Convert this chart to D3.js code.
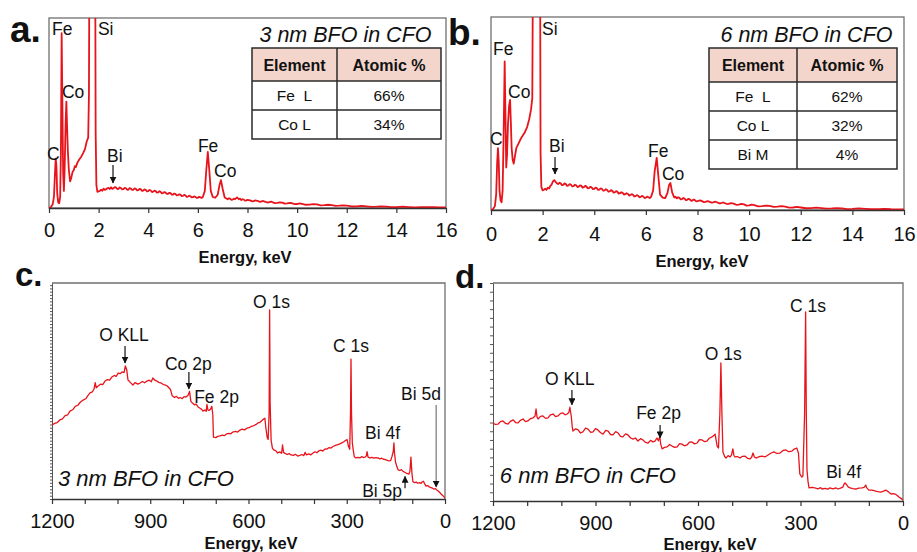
<!DOCTYPE html>
<html><head><meta charset="utf-8">
<script src="https://cdn.jsdelivr.net/npm/d3@7"></script>
<style>
body{margin:0;background:#fff}
svg{display:block;font-family:"Liberation Sans",Arial,Helvetica,sans-serif}
</style>
</head><body>
<svg id="chart" width="917" height="552"></svg>
<script>
// ---------- DATA ----------
const edsTicks = [0,2,4,6,8,10,12,14,16];
const xpsTicks = [0,100,200,300,400,500,600,700,800,900,1000,1100,1200];

// EDS spectrum, 3 nm BFO in CFO  [energy keV, counts a.u.]
const edsA = [[0,0],[0.08,0.5],[0.15,2],[0.2,6],[0.24,18],[0.27,26],[0.3,22],[0.33,8],[0.37,3],[0.41,2.5],[0.45,6],[0.48,30],[0.51,92],[0.54,55],[0.57,18],[0.6,9],[0.63,20],[0.67,45],[0.7,56],[0.73,42],[0.76,30],[0.8,20],[0.85,14],[0.9,16],[0.95,19],[1.0,20],[1.04,22],[1.08,21.5],[1.15,24],[1.22,25.5],[1.3,27],[1.38,29],[1.45,31],[1.52,35],[1.58,37],[1.61,60],[1.63,140],[1.86,140],[1.88,40],[1.91,12],[1.95,8.5],[2.0,8.8],[2.05,9.0],[2.1,9.6],[2.15,9.1],[2.2,10.2],[2.25,9.5],[2.3,9.8],[2.35,10.4],[2.4,10.6],[2.45,10.0],[2.5,10.9],[2.55,10.1],[2.6,10.3],[2.65,11.0],[2.7,10.8],[2.75,10.0],[2.8,10.1],[2.85,10.8],[2.9,10.5],[2.95,9.8],[3.0,9.9],[3.05,10.6],[3.1,10.4],[3.15,9.6],[3.2,9.7],[3.25,10.5],[3.3,10.2],[3.35,9.5],[3.4,9.6],[3.45,10.3],[3.5,10.1],[3.55,9.3],[3.6,9.4],[3.65,10.0],[3.7,9.9],[3.75,9.0],[3.8,9.2],[3.85,9.8],[3.9,9.5],[3.95,8.8],[4.0,8.9],[4.05,9.5],[4.1,9.2],[4.15,8.4],[4.2,8.6],[4.25,9.1],[4.3,8.9],[4.35,8.1],[4.4,8.2],[4.45,8.8],[4.5,8.5],[4.55,7.7],[4.6,7.9],[4.65,8.4],[4.7,8.1],[4.75,7.4],[4.8,7.5],[4.85,8.0],[4.9,7.8],[4.95,7.0],[5.0,7.1],[5.05,7.6],[5.1,7.3],[5.15,6.6],[5.2,6.8],[5.25,7.2],[5.3,7.0],[5.35,6.3],[5.4,6.4],[5.45,6.9],[5.5,6.6],[5.55,5.9],[5.6,6.0],[5.65,6.5],[5.7,6.2],[5.75,5.6],[5.8,5.7],[5.85,6.1],[5.9,5.9],[5.95,5.3],[6.0,5.4],[6.05,5.9],[6.1,5.6],[6.15,5.3],[6.2,5.8],[6.28,9],[6.34,20],[6.4,29.5],[6.46,20],[6.52,9],[6.6,5.8],[6.7,5.4],[6.8,7],[6.87,12],[6.93,14.7],[7.0,10],[7.08,5.5],[7.15,5.0],[7.2,4.6],[7.25,5.1],[7.3,4.9],[7.35,4.3],[7.4,4.4],[7.45,4.9],[7.5,4.7],[7.58,5.6],[7.65,4.6],[7.7,4.9],[7.75,4.2],[7.8,4.6],[7.85,4.4],[7.9,3.9],[7.95,3.9],[8.0,4.3],[8.1,4.0],[8.2,3.5],[8.25,3.6],[8.3,4.0],[8.4,3.8],[8.5,3.2],[8.55,3.3],[8.6,3.7],[8.7,3.4],[8.8,2.9],[8.85,3.0],[8.95,3.4],[9.0,3.1],[9.1,2.6],[9.2,2.7],[9.3,3.0],[9.4,2.8],[9.5,2.3],[9.6,2.4],[9.7,2.7],[9.8,2.5],[9.9,2.0],[10.0,2.1],[10.1,2.4],[10.2,2.2],[10.35,1.7],[10.5,1.8],[10.65,2.0],[10.8,1.9],[10.95,1.4],[11.1,1.5],[11.25,1.7],[11.4,1.5],[11.55,1.1],[11.7,1.2],[11.85,1.4],[12.0,1.2],[12.2,0.8],[12.4,0.9],[12.6,1.1],[12.8,0.9],[13.0,0.6],[13.2,0.7],[13.4,0.9],[13.6,0.7],[13.8,0.5],[14.0,0.5],[14.25,0.7],[14.5,0.5],[14.75,0.3],[15.0,0.4],[15.25,0.5],[15.5,0.4],[15.75,0.3],[16.0,0.3]];

// EDS spectrum, 6 nm BFO in CFO
const edsB = [[0,0],[0.08,0.5],[0.15,2],[0.2,8],[0.24,25],[0.27,32],[0.3,25],[0.33,10],[0.37,5],[0.41,4],[0.45,10],[0.49,40],[0.53,77],[0.56,50],[0.59,22],[0.62,28],[0.66,45],[0.7,54],[0.74,57],[0.77,45],[0.8,32],[0.84,26],[0.88,24],[0.93,28],[0.98,32],[1.05,34],[1.12,36],[1.2,38],[1.3,40],[1.4,43],[1.48,47],[1.55,52],[1.6,58],[1.63,140],[1.9,140],[1.92,30],[1.95,12],[2.0,10.2],[2.05,10.5],[2.1,11.0],[2.15,10.4],[2.2,11.6],[2.25,11.1],[2.3,12.5],[2.35,13.2],[2.4,14.8],[2.45,15.5],[2.5,14.6],[2.55,13.9],[2.6,13.4],[2.65,14.1],[2.7,13.8],[2.75,12.9],[2.8,13.0],[2.85,13.8],[2.9,13.4],[2.95,12.5],[3.0,12.7],[3.05,13.4],[3.1,13.1],[3.15,12.2],[3.2,12.4],[3.25,13.1],[3.3,12.8],[3.35,11.9],[3.4,12.1],[3.45,12.8],[3.5,12.5],[3.55,11.6],[3.6,11.8],[3.65,12.5],[3.7,12.1],[3.75,11.2],[3.8,11.4],[3.85,12.0],[3.9,11.7],[3.95,10.8],[4.0,11.0],[4.05,11.6],[4.1,11.3],[4.15,10.4],[4.2,10.6],[4.25,11.2],[4.3,10.9],[4.35,10.0],[4.4,10.2],[4.45,10.8],[4.5,10.4],[4.55,9.5],[4.6,9.7],[4.65,10.3],[4.7,9.9],[4.75,9.0],[4.8,9.2],[4.85,9.8],[4.9,9.4],[4.95,8.5],[5.0,8.7],[5.05,9.2],[5.1,8.9],[5.15,8.0],[5.2,8.2],[5.25,8.7],[5.3,8.4],[5.35,7.5],[5.4,7.7],[5.45,8.2],[5.5,7.9],[5.55,7.0],[5.6,7.2],[5.65,7.7],[5.7,7.4],[5.75,6.6],[5.8,6.8],[5.85,7.3],[5.9,7.0],[5.95,6.2],[6.0,6.4],[6.05,6.9],[6.1,6.6],[6.15,6.2],[6.2,6.8],[6.28,10],[6.34,20],[6.42,27],[6.48,18],[6.55,8],[6.65,6.4],[6.75,6.2],[6.84,9],[6.9,13],[6.95,14],[7.02,9],[7.1,6.5],[7.15,6.9],[7.2,6.0],[7.25,6.6],[7.3,6.3],[7.35,5.5],[7.4,5.6],[7.45,6.2],[7.5,5.9],[7.55,5.1],[7.6,5.3],[7.65,5.8],[7.7,5.5],[7.75,4.8],[7.8,4.9],[7.85,5.4],[7.9,5.1],[7.95,4.5],[8.0,4.6],[8.1,5.0],[8.15,4.7],[8.25,4.1],[8.3,4.2],[8.4,4.6],[8.45,4.3],[8.55,3.8],[8.6,3.9],[8.7,4.3],[8.75,4.0],[8.85,3.4],[8.9,3.5],[9.0,3.9],[9.05,3.6],[9.15,3.1],[9.2,3.2],[9.3,3.6],[9.4,3.3],[9.5,2.7],[9.6,2.8],[9.7,3.2],[9.8,2.9],[9.9,2.3],[10.0,2.4],[10.1,2.8],[10.2,2.5],[10.35,1.9],[10.5,2.0],[10.65,2.3],[10.8,2.1],[10.95,1.6],[11.1,1.7],[11.25,2.0],[11.4,1.7],[11.55,1.2],[11.7,1.3],[11.85,1.6],[12.0,1.3],[12.2,0.9],[12.4,1.0],[12.6,1.2],[12.8,1.0],[13.0,0.7],[13.2,0.8],[13.4,1.0],[13.6,0.8],[13.8,0.5],[14.0,0.6],[14.25,0.8],[14.5,0.6],[14.75,0.4],[15.0,0.4],[15.25,0.6],[15.5,0.4],[15.75,0.3],[16.0,0.3]];

// XPS survey, 3 nm BFO in CFO  [binding energy, intensity a.u.]
const xpsC = [[1200,34.3],[1192,35.0],[1184,35.4],[1176,36.6],[1168,37.1],[1160,38.6],[1152,39.0],[1145,40.7],[1137,41.3],[1129,42.9],[1121,43.4],[1113,44.9],[1105,45.8],[1097,46.4],[1090,48.0],[1084,49.1],[1077,49.6],[1072,50.8],[1068,53.9],[1065,51.5],[1058,52.4],[1051,53.2],[1045,53.0],[1038,54.6],[1031,55.3],[1024,55.0],[1017,56.5],[1010,57.2],[1004,56.8],[998,58.3],[992,58.0],[986,58.8],[980,58.5],[976,61.6],[972,60.0],[968,55.1],[961,54.0],[953,52.8],[946,53.9],[938,53.2],[931,53.7],[924,54.4],[917,53.8],[910,54.6],[903,55.0],[897,54.3],[892,56.0],[886,55.0],[880,54.6],[874,54.0],[866,53.6],[860,53.0],[855,52.8],[848,52.3],[843,51.5],[838,50.6],[833,47.8],[826,47.0],[820,47.5],[814,46.6],[809,47.0],[802,46.5],[797,47.4],[791,47.2],[785,47.9],[780,49.8],[776,45.2],[771,44.4],[765,43.6],[760,43.9],[754,42.6],[748,42.0],[743,41.5],[739,40.7],[733,41.2],[729,40.6],[727,43.8],[724,41.3],[721,41.0],[716,41.6],[712,42.9],[709,39.0],[707,28.6],[700,28.4],[694,29.0],[687,29.2],[680,29.6],[674,29.3],[667,30.1],[660,30.4],[654,30.2],[648,31.0],[640,31.3],[633,31.0],[626,31.9],[619,32.3],[612,32.0],[605,32.8],[598,33.0],[592,33.6],[585,33.9],[578,34.4],[571,35.2],[565,35.5],[559,36.3],[554,37.0],[550,37.4],[547,33.0],[543,28.5],[540,27.6],[537,40],[535.5,87.5],[534,45],[531,27.3],[527,23.6],[523,22.7],[517,22.4],[511,21.3],[505,21.8],[499,21.2],[496,25.0],[493,21.6],[488,21.1],[482,20.6],[476,21.0],[470,20.4],[463,20.2],[457,20.7],[450,19.9],[443,20.2],[437,20.6],[431,20.1],[427,21.6],[423,20.4],[416,20.9],[410,20.4],[404,21.2],[397,21.9],[391,21.4],[385,22.3],[379,22.6],[373,22.2],[366,23.2],[360,23.1],[354,23.8],[348,23.6],[342,24.3],[335,24.8],[329,25.1],[321,25.5],[315,26.0],[309,26.5],[303,27.2],[299,27.5],[295,24.5],[291,23.0],[288.5,40],[287,64.8],[285.5,40],[283,26],[280,22.5],[277,19.6],[272,19.0],[266,19.3],[260,19.0],[254,19.6],[249,19.2],[244,19.4],[240,20.0],[238,21.9],[235,19.4],[229,19.0],[223,19.3],[217,18.9],[211,19.2],[205,19.0],[199,18.6],[193,18.9],[188,18.4],[182,18.2],[176,17.9],[171,17.6],[166,17.8],[162,19.6],[158,22],[156,26.0],[154,21],[151,17.0],[147,15.0],[143,13.5],[138,13.2],[133,13.6],[128,12.8],[123,12.4],[119,12.0],[114,11.8],[110,11.5],[107,13],[104,19.4],[101,12],[98,8.0],[93,7.6],[88,7.8],[83,7.3],[78,7.6],[73,7.2],[69,8.0],[66,8.2],[62,7.0],[58,6.0],[53,6.2],[48,5.6],[43,5.3],[38,5.0],[34,4.6],[29,4.8],[25,4.2],[20,3.6],[16,3.0],[12,2.3],[7,1.6],[3,1.0],[0,0.5]];

// XPS survey, 6 nm BFO in CFO
const xpsD = [[1200,35.8],[1193,35.1],[1185,35.3],[1178,36.4],[1171,36.7],[1163,35.6],[1156,35.3],[1149,36.5],[1141,37.2],[1134,36.0],[1127,35.8],[1120,37.0],[1112,37.6],[1105,36.4],[1098,36.7],[1090,37.8],[1083,38.1],[1077,39.0],[1074,42.2],[1071,38.4],[1068,37.6],[1061,38.8],[1054,39.0],[1046,37.9],[1039,38.1],[1032,39.5],[1024,39.9],[1017,38.7],[1010,39.0],[1002,40.2],[995,40.4],[989,39.5],[983,39.9],[978,40.6],[975,43.0],[971,39.0],[968,34.0],[966,32.1],[958,33.1],[951,32.6],[944,31.2],[937,31.7],[929,33.4],[922,33.0],[914,31.5],[907,31.7],[900,33.2],[893,32.6],[885,31.3],[878,30.7],[870,32.4],[863,32.1],[856,30.5],[849,30.3],[841,31.8],[834,31.2],[827,29.6],[820,29.4],[812,30.8],[805,30.3],[797,28.9],[790,28.4],[783,28.9],[776,27.5],[768,28.6],[761,28.0],[754,26.9],[746,26.6],[739,27.8],[732,27.1],[726,27.5],[720,28.9],[716,27.6],[712,29.6],[709,26.0],[705,23.9],[698,24.6],[691,24.8],[683,25.9],[676,25.2],[668,24.6],[661,24.8],[654,26.3],[647,26.1],[640,25.3],[632,25.7],[625,27.0],[618,27.1],[610,26.2],[603,26.6],[596,28.1],[588,28.0],[581,27.2],[574,27.5],[567,28.8],[559,29.4],[554,30.0],[550,30.7],[547,28.0],[544,25.2],[540,24.3],[536,40],[533,63.3],[530,40],[527,22.5],[522,20.4],[518,19.7],[512,20.8],[506,20.2],[502,21.0],[498,23.9],[495,21.0],[492,20.2],[485,20.4],[477,19.7],[470,20.5],[463,20.6],[455,19.6],[448,19.3],[443,20.1],[439,22.0],[435,20.2],[430,19.7],[422,20.3],[413,20.6],[404,20.2],[395,21.1],[387,21.9],[378,22.5],[369,21.8],[360,22.0],[351,23.2],[343,23.4],[334,22.6],[325,22.9],[318,23.8],[311,24.3],[306,22.0],[302,12.4],[296,11.0],[293,11.5],[288,40],[285,86.7],[283,40],[281,14.2],[278,9],[275,6.0],[266,6.3],[258,6.0],[249,5.6],[241,6.1],[237,5.5],[228,5.8],[220,5.4],[214,6.0],[205,5.6],[197,6.0],[190,5.5],[183,5.9],[176,6.4],[173,7.6],[170,8.3],[167,7.8],[164,7.3],[160,6.4],[155,6.0],[147,5.7],[138,5.5],[130,5.9],[120,6.0],[114,6.2],[109,7.3],[106,6.0],[100,5.0],[91,5.0],[82,4.6],[74,4.3],[65,4.1],[57,4.5],[50,5.0],[43,4.2],[35,3.2],[29,3.4],[23,3.2],[17,2.5],[12,1.8],[6,1.2],[0,0.5]];

// EDS quantification tables
const tableHead = ["Element", "Atomic %"];
const tableA = [["Fe  L", "66%"], ["Co L", "34%"]];
const tableB = [["Fe  L", "62%"], ["Co L", "32%"], ["Bi M", "4%"]];

// Peak annotations (in data units)
const annA = [{t:"Fe",x:0.12,y:91},{t:"Si",x:1.97,y:91},{t:"Co",x:0.52,y:57.9},{t:"C",x:-0.08,y:25.3},{t:"Bi",x:2.34,y:24.2},{t:"Fe",x:6.0,y:29.5},{t:"Co",x:6.65,y:16.3}];
const arrA = [{x:2.58,y1:22.6,y2:13.2}];
const annB = [{t:"Fe",x:0.08,y:80.3},{t:"Si",x:1.98,y:90.7},{t:"Co",x:0.66,y:58.0},{t:"C",x:-0.04,y:33.7},{t:"Bi",x:2.25,y:30.1},{t:"Fe",x:6.08,y:27.5},{t:"Co",x:6.62,y:15.5}];
const arrB = [{x:2.48,y1:27.5,y2:18.7}];
const annC = [{t:"O KLL",x:1056,y:73.1},{t:"Co 2p",x:855,y:59.7},{t:"Fe 2p",x:766,y:44.4},{t:"O 1s",x:586,y:88.4},{t:"C 1s",x:342,y:68.1},{t:"Bi 5d",x:134,y:45.8},{t:"Bi 4f",x:244,y:27.8},{t:"Bi 5p",x:253,y:0.9}];
const arrC = [{x:977,y1:70.8,y2:63.0},{x:782,y1:58.8,y2:51.0},{x:27,y1:43.5,y2:5.6,grey:true},{x:122,y1:5.0,y2:10.4}];
const annD = [{t:"O KLL",x:1048,y:53.2},{t:"Fe 2p",x:781,y:37.6},{t:"O 1s",x:580,y:64.7},{t:"C 1s",x:331,y:86.7},{t:"Bi 4f",x:225,y:10.6}];
const arrD = [{x:969,y1:50.9,y2:44.2},{x:711,y1:34.9,y2:29.0}];

// ---------- DRAWING ----------
const RED = "#e8141c";
const FRAME = "#707070";
const svg = d3.select("#chart");
const defs = svg.append("defs");
defs.append("marker").attr("id","ah").attr("viewBox","0 0 10 10")
  .attr("refX",9).attr("refY",5).attr("markerWidth",7).attr("markerHeight",7)
  .attr("markerUnits","userSpaceOnUse").attr("orient","auto")
  .append("path").attr("d","M0,0 L10,5 L0,10 Z").attr("fill","#111");
defs.append("marker").attr("id","ahg").attr("viewBox","0 0 10 10")
  .attr("refX",9).attr("refY",5).attr("markerWidth",7).attr("markerHeight",7)
  .attr("markerUnits","userSpaceOnUse").attr("orient","auto")
  .append("path").attr("d","M0,0 L10,5 L0,10 Z").attr("fill","#111");

function panel(cfg) {
  const {id, x0, x1, y0, y1, xDomain, data, ann, arrows, ticks, fmt, lw, fullFrame, yTickStep, labelPad, titleX, titleY} = cfg;
  const x = d3.scaleLinear().domain(xDomain).range([x0, x1]);
  const y = d3.scaleLinear().domain([0, 100]).range([y1, y0]);
  const g = svg.append("g");
  defs.append("clipPath").attr("id","clip"+id).append("rect")
    .attr("x",x0).attr("y",y0).attr("width",x1-x0).attr("height",y1-y0);

  // frame
  if (fullFrame) {
    g.append("rect").attr("x",x0).attr("y",y0).attr("width",x1-x0).attr("height",y1-y0)
      .attr("fill","none").attr("stroke",FRAME).attr("stroke-width",1.3);
  } else {
    g.append("path").attr("d",`M${x0},${y0}H${x1}V${y1}`).attr("fill","none")
      .attr("stroke",FRAME).attr("stroke-width",1.3);
    const ya = g.append("g").attr("transform",`translate(${x0},0)`)
      .call(d3.axisLeft(y).tickValues(d3.range(0,100.01,yTickStep)).tickSize(yTickStep<2?2:3).tickSizeOuter(0).tickFormat(""));
    ya.select(".domain").attr("stroke","#555").attr("stroke-width",1);
    ya.selectAll(".tick line").attr("stroke","#555");
  }

  // spectrum
  g.append("path").datum(data)
    .attr("clip-path",`url(#clip${id})`)
    .attr("fill","none").attr("stroke",RED).attr("stroke-width",lw).attr("stroke-linejoin","round")
    .attr("d", d3.line().x(d=>x(d[0])).y(d=>y(d[1])));

  // x axis
  const xa = g.append("g").attr("transform",`translate(0,${y1})`)
    .call(d3.axisBottom(x).tickValues(ticks).tickSize(5).tickSizeOuter(0).tickPadding(labelPad).tickFormat(fmt));
  xa.select(".domain").attr("stroke","#333").attr("stroke-width",1.6);
  xa.selectAll(".tick line").attr("stroke","#333").attr("stroke-width",1.2);
  xa.selectAll(".tick text").attr("font-size",20).attr("fill","#111")
    .attr("font-family",'"Liberation Sans",Arial,sans-serif');

  g.append("text").attr("x",titleX).attr("y",titleY).attr("text-anchor","middle")
    .attr("font-weight","bold").attr("font-size",16.5).attr("fill","#111").text("Energy, keV");

  // annotations
  g.selectAll("text.ann").data(ann).join("text").attr("class","ann")
    .attr("x",d=>x(d.x)).attr("y",d=>y(d.y)).attr("font-size",17.5).attr("fill","#111").text(d=>d.t);
  g.selectAll("line.arr").data(arrows).join("line").attr("class","arr")
    .attr("x1",d=>x(d.x)).attr("x2",d=>x(d.x)).attr("y1",d=>y(d.y1)).attr("y2",d=>y(d.y2))
    .attr("stroke",d=>d.grey?"#777":"#111").attr("stroke-width",1.2)
    .attr("marker-end",d=>d.grey?"url(#ahg)":"url(#ah)");
  return {x, y, g};
}

function table(x0, xs, x1, yTop, hHead, hRow, rows) {
  const g = svg.append("g");
  const yBottom = yTop + hHead + hRow*rows.length;
  g.append("rect").attr("x",x0).attr("y",yTop).attr("width",x1-x0).attr("height",hHead).attr("fill","#f3d5cb");
  g.append("rect").attr("x",x0).attr("y",yTop).attr("width",x1-x0).attr("height",yBottom-yTop)
    .attr("fill","none").attr("stroke","#2a2a2a").attr("stroke-width",1.5);
  g.append("line").attr("x1",xs).attr("x2",xs).attr("y1",yTop).attr("y2",yBottom).attr("stroke","#2a2a2a").attr("stroke-width",1.5);
  rows.forEach((r,i)=>{
    const yy = yTop + hHead + hRow*i;
    g.append("line").attr("x1",x0).attr("x2",x1).attr("y1",yy).attr("y2",yy).attr("stroke","#2a2a2a").attr("stroke-width",1.5);
    r.forEach((c,j)=>{
      g.append("text").attr("x", j===0 ? (x0+xs)/2 : (xs+x1)/2).attr("y", yy + hRow/2 + 5.5)
        .attr("text-anchor","middle").attr("font-size",15.5).attr("fill","#111")
        .style("white-space","pre").text(c);
    });
  });
  tableHead.forEach((c,j)=>{
    g.append("text").attr("x", j===0 ? (x0+xs)/2 : (xs+x1)/2).attr("y", yTop + hHead/2 + 6)
      .attr("text-anchor","middle").attr("font-size",16).attr("font-weight","bold").attr("fill","#111").text(c);
  });
}

// Panel a
panel({id:"a", x0:49, x1:446, y0:18, y1:208, xDomain:[0,16], data:edsA, ann:annA, arrows:arrA,
  ticks:edsTicks, fmt:d=>d, lw:1.8, fullFrame:true, labelPad:10, titleX:245, titleY:263});
table(252, 337, 441, 48, 33, 29, tableA);
svg.append("text").attr("x",345.5).attr("y",42).attr("text-anchor","middle").attr("font-size",21.5)
  .attr("font-style","italic").attr("fill","#111").text("3 nm BFO in CFO");

// Panel b
panel({id:"b", x0:491, x1:904, y0:17, y1:210, xDomain:[0,16], data:edsB, ann:annB, arrows:arrB,
  ticks:edsTicks, fmt:d=>d, lw:1.8, fullFrame:true, labelPad:12, titleX:702, titleY:267});
table(709, 797, 897, 48, 34, 29, tableB);
svg.append("text").attr("x",806.5).attr("y",42).attr("text-anchor","middle").attr("font-size",21.5)
  .attr("font-style","italic").attr("fill","#111").text("6 nm BFO in CFO");

// Panel c
const pc = panel({id:"c", x0:52, x1:445, y0:283, y1:499, xDomain:[1200,0], data:xpsC, ann:annC, arrows:arrC,
  ticks:xpsTicks, fmt:d=>d%300===0?d:"", lw:1.3, fullFrame:false, yTickStep:1.5, labelPad:10, titleX:251, titleY:549});
svg.append("text").attr("x",pc.x(1182)).attr("y",pc.y(6.0)).attr("font-size",22)
  .attr("font-style","italic").attr("fill","#111").text("3 nm BFO in CFO");

// Panel d
const pd = panel({id:"d", x0:493, x1:903, y0:283, y1:501, xDomain:[1200,0], data:xpsD, ann:annD, arrows:arrD,
  ticks:xpsTicks, fmt:d=>d%300===0?d:"", lw:1.3, fullFrame:false, yTickStep:4, labelPad:10, titleX:710, titleY:550});
svg.append("text").attr("x",pd.x(1180)).attr("y",pd.y(8.3)).attr("font-size",22)
  .attr("font-style","italic").attr("fill","#111").text("6 nm BFO in CFO");

// Panel letters
const letters = [["a.",10,42,37],["b.",448,45,37],["c.",15,286,33],["d.",455,288,33]];
svg.selectAll("text.letter").data(letters).join("text").attr("class","letter")
  .attr("x",d=>d[1]).attr("y",d=>d[2]).attr("font-size",d=>d[3]).attr("font-weight","bold")
  .attr("fill","#111").text(d=>d[0]);
</script>
</body></html>
